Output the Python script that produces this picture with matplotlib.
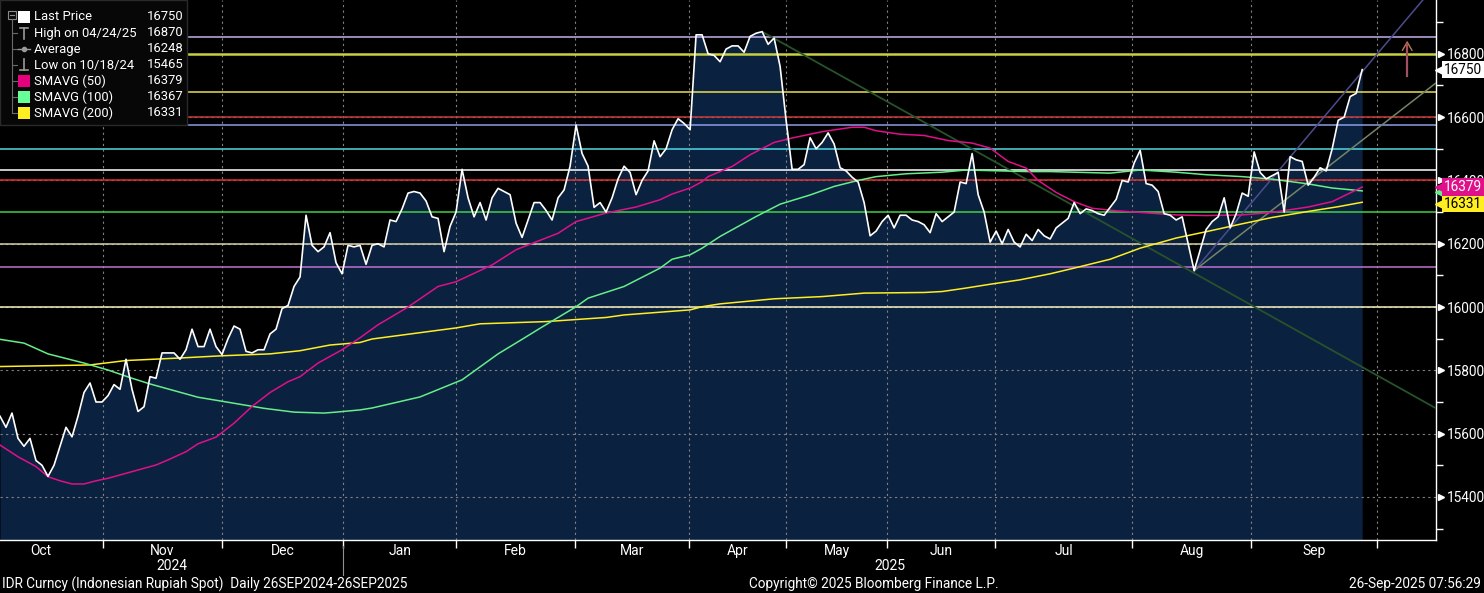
import matplotlib
matplotlib.use('Agg')
import matplotlib.pyplot as plt
import matplotlib.transforms as mtransforms
from matplotlib.patches import Rectangle

plt.rcParams['font.family'] = ['Roboto', 'DejaVu Sans']
FS = 9.5

# IDR spot, one value per trading day (26 Sep 2024 .. 26 Sep 2025)
last_price = [
    15655, 15620, 15665, 15585, 15560, 15585, 15515, 15500, 15465, 15500,
    15560, 15620, 15590, 15655, 15730, 15760, 15700, 15700, 15720, 15755,
    15740, 15835, 15740, 15670, 15685, 15780, 15775, 15855, 15855, 15855,
    15835, 15865, 15930, 15875, 15875, 15930, 15875, 15850, 15900, 15940,
    15930, 15860, 15855, 15865, 15865, 15915, 15930, 15995, 16005, 16065,
    16095, 16290, 16195, 16175, 16190, 16235, 16140, 16105, 16195, 16190,
    16195, 16135, 16195, 16200, 16190, 16275, 16270, 16310, 16360, 16365,
    16360, 16335, 16285, 16280, 16175, 16255, 16300, 16435, 16345, 16285,
    16330, 16275, 16345, 16375, 16365, 16355, 16265, 16220, 16275, 16330,
    16330, 16305, 16275, 16345, 16370, 16445, 16575, 16485, 16445, 16315,
    16330, 16300, 16345, 16405, 16445, 16425, 16355, 16400, 16430, 16525,
    16475, 16500, 16560, 16595, 16580, 16560, 16860, 16860, 16800, 16795,
    16775, 16815, 16825, 16825, 16805, 16855, 16865, 16870, 16830, 16850,
    16760, 16590, 16435, 16435, 16450, 16535, 16500, 16520, 16550, 16515,
    16440, 16430, 16410, 16395, 16330, 16225, 16240, 16270, 16290, 16250,
    16290, 16290, 16275, 16270, 16260, 16235, 16295, 16270, 16285, 16300,
    16395, 16390, 16485, 16355, 16300, 16205, 16240, 16200, 16245, 16205,
    16190, 16230, 16210, 16245, 16225, 16215, 16250, 16265, 16280, 16330,
    16295, 16310, 16305, 16295, 16290, 16315, 16340, 16400, 16395, 16455,
    16495, 16390, 16385, 16365, 16295, 16290, 16275, 16285, 16200, 16115,
    16180, 16245, 16270, 16285, 16345, 16250, 16295, 16360, 16350, 16490,
    16425, 16405, 16415, 16425, 16300, 16475, 16465, 16460, 16385, 16410,
    16440, 16430, 16500, 16590, 16600, 16665, 16675, 16750,
]
days = list(range(len(last_price)))

# moving averages, read at sample days
sma50_day = [0, 3, 6, 8, 10, 12, 14, 16, 18, 22, 26, 28, 31, 33, 36, 39, 42, 45, 48, 50,
             53, 57, 60, 63, 68, 73, 76, 82, 86, 88, 93, 96, 101, 106, 110, 112, 115, 117, 118, 122,
             125, 129, 132, 137, 142, 144, 146, 150, 154, 158, 162, 165, 168, 171, 173, 176, 179, 182, 186, 190,
             196, 201, 207, 212, 218, 222, 227]
sma50 = [15564, 15527, 15496, 15464, 15451, 15441, 15441, 15451, 15459, 15480,
         15501, 15517, 15543, 15568, 15589, 15633, 15686, 15730, 15764, 15780,
         15823, 15865, 15903, 15944, 16000, 16065, 16080, 16133, 16181, 16196,
         16233, 16270, 16297, 16316, 16339, 16357, 16376, 16396, 16412, 16444,
         16481, 16520, 16534, 16554, 16568, 16568, 16557, 16546, 16542, 16526,
         16518, 16502, 16460, 16439, 16400, 16362, 16333, 16312, 16304, 16299,
         16291, 16289, 16291, 16299, 16316, 16333, 16379]

sma100_day = [0, 4, 8, 14, 18, 22, 25, 29, 33, 39, 44, 49, 54, 56, 60, 62, 70, 77, 83, 87,
              90, 96, 98, 104, 110, 112, 115, 117, 120, 126, 130, 135, 139, 143, 146, 151, 157, 161, 165, 171,
              175, 179, 185, 190, 196, 201, 207, 212, 218, 222, 227]
sma100 = [15898, 15886, 15852, 15823, 15801, 15775, 15757, 15736, 15715, 15696,
          15680, 15668, 15665, 15668, 15675, 15681, 15716, 15770, 15852, 15898,
          15933, 16001, 16028, 16065, 16123, 16151, 16165, 16186, 16223, 16286,
          16325, 16354, 16381, 16400, 16412, 16421, 16426, 16433, 16431, 16428,
          16428, 16426, 16423, 16433, 16426, 16418, 16412, 16404, 16389, 16376,
          16367]

sma200_day = [0, 15, 21, 30, 37, 45, 50, 55, 60, 62, 76, 80, 91, 101, 104, 115, 117, 120, 129, 137,
              144, 154, 157, 161, 165, 170, 175, 179, 185, 190, 196, 201, 207, 212, 218, 223, 227]
sma200 = [15812, 15817, 15831, 15839, 15846, 15852, 15862, 15880, 15888, 15899,
          15934, 15947, 15954, 15967, 15975, 15991, 16001, 16010, 16026, 16033,
          16044, 16046, 16049, 16060, 16072, 16086, 16105, 16123, 16151, 16186,
          16218, 16238, 16263, 16283, 16302, 16317, 16331]

# user drawn horizontal levels and trend lines
level_values = [16853, 16800, 16679, 16600, 16575, 16500, 16433, 16400, 16300, 16200, 16126, 16000]
level_colors = ['#c4b0e8', '#c8d040', '#e8e050', '#c83c3c', '#8c9ce8', '#50d8e0',
                '#ffffff', '#e03030', '#40d040', '#d8d0b0', '#c070d0', '#f8f0c0']
trend_down = ([127, 239.3], [16870, 15680])
trend_up_steep = ([199, 240], [16115, 17035])
trend_up_soft = ([199, 239.3], [16115, 16708])

# month boundaries (trading-day position of the 1st of each month)
month_start = [-3.5, 17.2, 37.0, 57.2, 76.0, 95.8, 114.8, 131.0, 147.8, 165.8, 188.7, 208.5, 229.5]
month_names = ['Oct', 'Nov', 'Dec', 'Jan', 'Feb', 'Mar', 'Apr', 'May', 'Jun', 'Jul', 'Aug', 'Sep']
year_names = ['2024', '2025']

legend_rows = [('Last Price', '16750'), ('High on 04/24/25', '16870'), ('Average', '16248'),
               ('Low on 10/18/24', '15465'), ('SMAVG (50)', '16379'),
               ('SMAVG (100)', '16367'), ('SMAVG (200)', '16331')]

W, H = 1484, 593
fig = plt.figure(figsize=(W / 100, H / 100), dpi=100, facecolor='black')
ax = fig.add_axes([0, 53 / H, 1436 / W, 540 / H])
ax.set_facecolor('black')
x_max = 239.3
ymin, ymax = 15264, 16970
ax.set_xlim(0, x_max)
ax.set_ylim(ymin, ymax)

ax.fill_between(days, last_price, ymin, color='#0b2140', lw=0, zorder=1)
for v, c in zip(level_values, level_colors):
    ax.axhline(v, color=c, lw=1.8 if v == 16800 else 1.1, zorder=2)

ax.plot(trend_down[0], trend_down[1], color='#27522a', lw=1.3, zorder=3)
ax.plot(trend_up_steep[0], trend_up_steep[1], color='#4c4c8c', lw=1.1, zorder=3)
ax.plot(trend_up_soft[0], trend_up_soft[1], color='#748468', lw=1.1, zorder=3)

ax.plot(sma200_day, sma200, color='#ffee22', lw=1.1, zorder=4)
ax.plot(sma100_day, sma100, color='#66ee88', lw=1.1, zorder=4)
ax.plot(sma50_day, sma50, color='#e0108a', lw=1.1, zorder=4)
ax.plot(days, last_price, color='white', lw=1.2, zorder=5)

# arrow annotation
ax.plot([234.5, 234.5], [16730, 16830], color='#a0505e', lw=1.6, zorder=5)
ax.annotate('', xy=(234.5, 16850), xytext=(234.5, 16800),
            arrowprops=dict(arrowstyle='->,head_width=0.35,head_length=0.6', color='#c07a48', lw=1.0))

# axes styling
for s in ['top', 'left']:
    ax.spines[s].set_visible(False)
for s in ['right', 'bottom']:
    ax.spines[s].set_color('white')
    ax.spines[s].set_linewidth(1.0)

ax.yaxis.tick_right()
yt = list(range(15400, 16801, 200))
ax.set_yticks(yt)
ax.set_yticks(list(range(15300, 16901, 100)), minor=True)
ax.tick_params(axis='y', which='major', length=0, pad=8, labelsize=FS + 0.3, colors='white')
ax.tick_params(axis='y', which='minor', length=5, width=1, color='white', direction='out')
yblend = mtransforms.blended_transform_factory(ax.transAxes, ax.transData)
ax.plot([1.0 + 5 / 1436] * len(yt), yt, transform=yblend, ls='none', marker='>',
        ms=5, color='white', clip_on=False, zorder=6)

ax.set_xticks(month_start[1:])
ax.set_xticklabels([])
mids = [max((a + b) / 2, 5.5) for a, b in zip(month_start[:-1], month_start[1:])]
ax.set_xticks(mids, minor=True)
ax.set_xticklabels(month_names, minor=True)
ax.tick_params(axis='x', which='major', length=6, width=1, color='white', direction='out')
ax.tick_params(axis='x', which='minor', length=0, pad=3, labelsize=FS + 0.5, colors='white')

ax.set_axisbelow('line')
ax.grid(True, which='major', color='#808080', ls=(0, (2, 3)), lw=0.8)

xblend = mtransforms.blended_transform_factory(ax.transData, ax.transAxes)
jan = month_start[3]
ax.text(jan / 2, -0.048, year_names[0], transform=xblend, ha='center', va='center',
        color='white', fontsize=FS + 0.5)
ax.text((jan + x_max) / 2, -0.048, year_names[1], transform=xblend, ha='center', va='center',
        color='white', fontsize=FS + 0.5)
ax.plot([jan, jan], [-0.012, -0.065], transform=xblend, color='#909090', lw=0.8, clip_on=False)

# value tags on the right
tags = [(16750, '16750', 'white', 'black'), (16362, '16367', '#66ee88', 'black'),
        (16326, '16331', '#ffee22', 'black'), (16379, '16379', '#e0108a', 'white')]
for v, txt, fc, tc in tags:
    ax.plot([1.0 + 5 / 1436], [v], transform=yblend, marker='<', ms=9, color=fc,
            clip_on=False, zorder=20)
    ax.text(1.0 + 8 / 1436, v, txt, transform=yblend, ha='left', va='center',
            fontsize=FS + 0.3, color=tc, clip_on=False, zorder=21,
            bbox=dict(boxstyle='square,pad=0.12', fc=fc, ec='none'))

# overlay in pixel coordinates for legend and footer
ov = fig.add_axes([0, 0, 1, 1], facecolor='none')
ov.set_xlim(0, W)
ov.set_ylim(H, 0)
ov.axis('off')
ov.add_patch(Rectangle((0, 0), 187, 125, fc='#070707', ec='#2a2a2a', lw=1))
row_y = [17 + 16 * i for i in range(len(legend_rows))]
for (lab, val), y in zip(legend_rows, row_y):
    ov.text(34, y, lab, color='white', fontsize=FS - 0.1, va='center', ha='left')
    ov.text(147, y, val, color='white', fontsize=FS - 0.1, va='center', ha='left')
# tree
ov.add_patch(Rectangle((8, 11), 8, 8, fc='none', ec='#8a8a8a', lw=0.8))
ov.plot([10, 14], [15, 15], color='#8a8a8a', lw=0.8)
ov.plot([12, 12], [19, row_y[-1]], color='#6a6a6a', lw=0.8)
for y in row_y[1:]:
    ov.plot([12, 17], [y, y], color='#6a6a6a', lw=0.8)
# icons
ov.add_patch(Rectangle((18, row_y[0] - 6), 12, 12, fc='white', ec='none'))
ov.plot([24, 24], [row_y[1] - 5, row_y[1] + 6], color='#9a9a9a', lw=1.2)
ov.plot([20, 28], [row_y[1] - 5, row_y[1] - 5], color='#9a9a9a', lw=1.2)
ov.plot([18, 30], [row_y[2], row_y[2]], color='#9a9a9a', lw=1)
ov.plot([24], [row_y[2]], marker='o', ms=3, color='#9a9a9a')
ov.plot([24, 24], [row_y[3] - 6, row_y[3] + 5], color='#9a9a9a', lw=1.2)
ov.plot([20, 28], [row_y[3] + 5, row_y[3] + 5], color='#9a9a9a', lw=1.2)
for y, c in zip(row_y[4:], ['#e6007e', '#66ff99', '#ffee22']):
    ov.add_patch(Rectangle((18, y - 6), 12, 12, fc=c, ec='none'))

ov.text(2, 584, 'IDR Curncy (Indonesian Rupiah Spot)  Daily 26SEP2024-26SEP2025',
        color='white', fontsize=FS + 0.3, va='center', ha='left')
ov.text(874, 584, 'Copyright\u00a9 2025 Bloomberg Finance L.P.', color='white',
        fontsize=FS + 0.3, va='center', ha='center')
ov.text(1481, 584, '26-Sep-2025 07:56:29', color='white', fontsize=FS + 0.3, va='center', ha='right')

fig.savefig('out.png', dpi=100, facecolor='black')
